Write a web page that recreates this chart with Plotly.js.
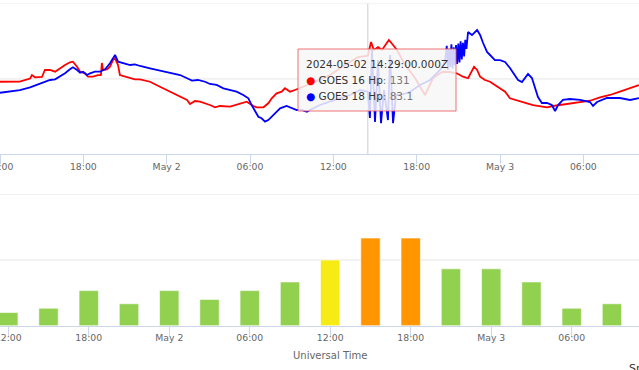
<!DOCTYPE html>
<html>
<head>
<meta charset="utf-8">
<script src="https://cdn.plot.ly/plotly-3.0.1.min.js"></script>
<style>html,body{margin:0;padding:0;background:#fff;overflow:hidden}#chart{width:639px;height:370px}</style>
</head>
<body>
<div id="chart"></div>
<script>
// GOES 16 Hp (nT)
const g16Time = [
 '2024-05-01 12:00','2024-05-01 12:45','2024-05-01 13:25','2024-05-01 14:10','2024-05-01 14:18','2024-05-01 14:31','2024-05-01 15:01','2024-05-01 15:14','2024-05-01 15:36','2024-05-01 15:58',
 '2024-05-01 16:19','2024-05-01 16:41','2024-05-01 17:02','2024-05-01 17:15','2024-05-01 17:33','2024-05-01 17:46','2024-05-01 18:07','2024-05-01 18:20','2024-05-01 18:42','2024-05-01 19:03',
 '2024-05-01 19:16','2024-05-01 19:20','2024-05-01 19:25','2024-05-01 19:42','2024-05-01 19:55','2024-05-01 20:08','2024-05-01 20:17','2024-05-01 20:30','2024-05-01 20:38','2024-05-01 21:00',
 '2024-05-01 21:22','2024-05-01 21:43','2024-05-01 22:05','2024-05-01 22:48','2024-05-01 23:31','2024-05-02 00:14','2024-05-02 00:58','2024-05-02 01:28','2024-05-02 01:41','2024-05-02 02:02',
 '2024-05-02 02:24','2024-05-02 02:46','2024-05-02 03:07','2024-05-02 03:29','2024-05-02 03:50','2024-05-02 04:34','2024-05-02 05:17','2024-05-02 05:46','2024-05-02 06:14','2024-05-02 06:29',
 '2024-05-02 06:58','2024-05-02 07:19','2024-05-02 07:34','2024-05-02 07:55','2024-05-02 08:17','2024-05-02 08:31','2024-05-02 08:53','2024-05-02 09:14','2024-05-02 10:19','2024-05-02 11:46',
 '2024-05-02 12:50','2024-05-02 13:47','2024-05-02 14:29','2024-05-02 14:43','2024-05-02 14:55','2024-05-02 15:13','2024-05-02 15:30','2024-05-02 15:47','2024-05-02 16:00','2024-05-02 16:18',
 '2024-05-02 16:35','2024-05-02 17:10','2024-05-02 17:53','2024-05-02 18:36','2024-05-02 19:11','2024-05-02 19:50','2024-05-02 20:24','2024-05-02 20:53','2024-05-02 21:20','2024-05-02 21:42',
 '2024-05-02 21:59','2024-05-02 22:08','2024-05-02 22:21','2024-05-02 22:34','2024-05-02 22:55','2024-05-02 23:17','2024-05-02 23:38','2024-05-03 00:00','2024-05-03 00:22','2024-05-03 00:43',
 '2024-05-03 01:05','2024-05-03 01:26','2024-05-03 01:57','2024-05-03 02:23','2024-05-03 02:53','2024-05-03 03:23','2024-05-03 03:49','2024-05-03 04:19','2024-05-03 05:02','2024-05-03 05:46',
 '2024-05-03 06:29','2024-05-03 07:12','2024-05-03 07:55','2024-05-03 08:38','2024-05-03 09:22','2024-05-03 10:00'
];
const g16Hp = [
 96.3,96.3,96.5,100.6,105.2,102.2,102.6,111.9,111.9,109.6,
 114.1,118.5,122.1,122.9,116.2,109.6,107.5,103,103,105.2,
 105.2,121.2,111.9,112.8,116.2,125.1,127.4,118.5,105.2,103,
 101.6,99.5,99.5,96.3,89.7,83.1,76.4,72.1,66.7,70.7,
 69.8,67.7,65.4,62.4,64.1,63.2,67.7,69.8,64.1,62.4,
 62.4,67.7,74.3,80.9,83.1,87.6,83.1,85.3,93.3,105.2,
 118.5,129.1,131,149,138.4,142.4,138.4,146.4,151.7,145,
 138.4,118.5,101.2,78.7,101.2,109.2,109.2,107.5,103,100.9,
 111.9,116.2,111.9,103,98.6,96.3,92,87.6,83.1,74.3,
 72.1,69.8,67.7,65.4,64.1,62.4,64.1,65.4,66.7,68.5,
 71.1,75.6,78.7,83.1,87.6,92
];
// GOES 18 Hp (nT)
const g18Time = [
 '2024-05-01 12:00','2024-05-01 12:43','2024-05-01 13:26','2024-05-01 14:10','2024-05-01 14:53','2024-05-01 15:14','2024-05-01 15:36','2024-05-01 15:58','2024-05-01 16:19','2024-05-01 16:41',
 '2024-05-01 17:02','2024-05-01 17:15','2024-05-01 17:33','2024-05-01 17:46','2024-05-01 17:59','2024-05-01 18:16','2024-05-01 18:29','2024-05-01 18:50','2024-05-01 19:12','2024-05-01 19:34',
 '2024-05-01 19:55','2024-05-01 20:17','2024-05-01 20:30','2024-05-01 20:51','2024-05-01 21:22','2024-05-01 21:43','2024-05-01 22:05','2024-05-01 22:48','2024-05-01 23:31','2024-05-02 00:14',
 '2024-05-02 00:58','2024-05-02 01:28','2024-05-02 01:49','2024-05-02 02:15','2024-05-02 02:46','2024-05-02 03:07','2024-05-02 03:36','2024-05-02 04:05','2024-05-02 04:34','2024-05-02 05:02',
 '2024-05-02 05:31','2024-05-02 05:53','2024-05-02 06:07','2024-05-02 06:22','2024-05-02 06:36','2024-05-02 06:50','2024-05-02 07:05','2024-05-02 07:19','2024-05-02 07:34','2024-05-02 07:48',
 '2024-05-02 08:10','2024-05-02 08:38','2024-05-02 09:00','2024-05-02 09:22','2024-05-02 09:43','2024-05-02 10:06','2024-05-02 10:19','2024-05-02 11:02','2024-05-02 12:07','2024-05-02 13:12',
 '2024-05-02 13:55','2024-05-02 14:29','2024-05-02 14:38','2024-05-02 14:47','2024-05-02 15:00','2024-05-02 15:13','2024-05-02 15:26','2024-05-02 15:39','2024-05-02 15:56','2024-05-02 16:05',
 '2024-05-02 16:18','2024-05-02 16:31','2024-05-02 16:48','2024-05-02 17:31','2024-05-02 18:14','2024-05-02 18:58','2024-05-02 19:41','2024-05-02 20:02','2024-05-02 20:10','2024-05-02 20:15',
 '2024-05-02 20:20','2024-05-02 20:25','2024-05-02 20:30','2024-05-02 20:35','2024-05-02 20:40','2024-05-02 20:45','2024-05-02 20:50','2024-05-02 20:55','2024-05-02 21:00','2024-05-02 21:05',
 '2024-05-02 21:10','2024-05-02 21:15','2024-05-02 21:20','2024-05-02 21:25','2024-05-02 21:30','2024-05-02 21:35','2024-05-02 21:42','2024-05-02 21:59','2024-05-02 22:21','2024-05-02 22:34',
 '2024-05-02 22:47','2024-05-02 23:04','2024-05-02 23:17','2024-05-02 23:38','2024-05-03 00:00','2024-05-03 00:22','2024-05-03 00:43','2024-05-03 01:05','2024-05-03 01:18','2024-05-03 01:35',
 '2024-05-03 01:48','2024-05-03 02:01','2024-05-03 02:18','2024-05-03 02:31','2024-05-03 02:44','2024-05-03 03:01','2024-05-03 03:23','2024-05-03 03:44','2024-05-03 03:58','2024-05-03 04:11',
 '2024-05-03 04:32','2024-05-03 05:02','2024-05-03 05:46','2024-05-03 06:29','2024-05-03 06:42','2024-05-03 06:59','2024-05-03 07:42','2024-05-03 08:38','2024-05-03 09:22','2024-05-03 10:00'
];
const g18Hp = [
 81.7,83.1,85.3,88.9,93.3,96.3,98.6,99.5,103,107.5,
 112.8,115.4,111.9,108.3,109.6,105.2,107.5,109.6,109.6,112.8,
 120.8,131.8,122.9,120.8,118.5,119.4,117.2,114.1,110.9,108.3,
 105.2,100.9,97.7,98.6,96.3,93.3,92,87.6,85.3,83.1,
 78.7,74.3,65.4,56.5,49.9,47.8,43.3,45.5,49.9,54.4,
 61,64.1,61,58.8,58.8,56.5,58.8,65.4,72.1,78.7,
 85.3,83.1,48.2,138.4,42.9,125.1,41.4,85.3,45.5,131.8,
 41.4,78.7,78.7,82.7,92,98.6,111.9,122.5,144,112,
 140,116,146,114,142,118,145,120,147,122,
 150,126,148,130,152,140,162.3,158.3,164.9,158.3,
 147.7,135.8,131.8,125.1,125.1,122.5,114.5,105.2,98.6,95.9,
 101.2,106.6,101.2,89.3,76,68.1,68.1,65.4,57.5,65.4,
 72.1,73.4,72.1,69.4,64.1,69.4,74.7,74.7,72.1,74.7
];
// Estimated planetary Kp (3-hour)
const kpTime = [
 '2024-05-01 12:00','2024-05-01 15:00','2024-05-01 18:00','2024-05-01 21:00',
 '2024-05-02 00:00','2024-05-02 03:00','2024-05-02 06:00','2024-05-02 09:00',
 '2024-05-02 12:00','2024-05-02 15:00','2024-05-02 18:00','2024-05-02 21:00',
 '2024-05-03 00:00','2024-05-03 03:00','2024-05-03 06:00','2024-05-03 09:00'
];
const kpValue = [1.0,1.33,2.67,1.67,2.67,2.0,2.67,3.33,5.0,6.67,6.67,4.33,4.33,3.33,1.33,1.67];
// Axis tick labels
const tickTimes = ['2024-05-01 12:00','2024-05-01 18:00','2024-05-02 00:00','2024-05-02 06:00','2024-05-02 12:00','2024-05-02 18:00','2024-05-03 00:00','2024-05-03 06:00'];
const tickLabels = ['12:00','18:00','May 2','06:00','12:00','18:00','May 3','06:00'];
// Grid values
const hpGrid = [100, 200];
const kpGrid = [5, 10];
// Tooltip content
const tipTime = '2024-05-02 14:29';
const tipHeader = '2024-05-02 14:29:00.000Z';
const tipG16 = '131';
const tipG18 = '83.1';

function kpColor(v){
  if (v >= 6.5) return 'rgb(255,150,0)';
  if (v >= 5.5) return 'rgb(255,200,0)';
  if (v >= 4.5) return 'rgb(246,235,20)';
  return 'rgb(146,208,80)';
}

const W = 639, H = 370;
const px = x => x / W;
const py = y => 1 - y / H;

const tickFont = {family: 'DejaVu Sans', size: 9.3, color: '#666666'};

const traces = [
  {x: g16Time, y: g16Hp, type: 'scatter', mode: 'lines', name: 'GOES 16 Hp',
   line: {color: '#ff0000', width: 1.8}, xaxis: 'x', yaxis: 'y'},
  {x: g18Time, y: g18Hp, type: 'scatter', mode: 'lines', name: 'GOES 18 Hp',
   line: {color: '#0000ff', width: 1.8}, xaxis: 'x', yaxis: 'y'},
  {x: kpTime, y: kpValue, type: 'bar', name: 'Kp', width: 5.2e6,
   marker: {color: kpValue.map(kpColor), line: {color: 'rgba(255,255,255,0.6)', width: 1}},
   xaxis: 'x2', yaxis: 'y2'}
];

const xCommon = {
  type: 'date', showgrid: false, showline: true, linecolor: '#ccd6eb', linewidth: 1,
  ticks: 'outside', ticklen: 9, tickcolor: '#ccd6eb', tickwidth: 1,
  tickvals: tickTimes, ticktext: tickLabels, tickfont: tickFont, zeroline: false, fixedrange: true,
  ticklabeloverflow: 'allow'
};

const gridShapes = [];
hpGrid.forEach(v => gridShapes.push({type: 'line', xref: 'paper', yref: 'y', x0: 0, x1: 1, y0: v, y1: v,
  line: {color: '#e6e6e6', width: 1}, layer: 'below'}));
kpGrid.forEach(v => gridShapes.push({type: 'line', xref: 'paper', yref: 'y2', x0: 0, x1: 1, y0: v, y1: v,
  line: {color: '#e6e6e6', width: 1}, layer: 'below'}));

const layout = {
  width: W, height: H,
  margin: {l: 0, r: 0, t: 0, b: 0},
  paper_bgcolor: '#ffffff', plot_bgcolor: '#ffffff',
  showlegend: false,
  bargap: 0,
  xaxis: Object.assign({}, xCommon, {domain: [0, 1], anchor: 'y', ticklabelstandoff: -5,
    range: ['2024-05-01 12:00', '2024-05-03 10:00:30']}),
  yaxis: {domain: [py(154.3), py(3.6)], range: [0, 200], showticklabels: false,
    showgrid: false, zeroline: false, showline: false, ticks: '', anchor: 'x'},
  xaxis2: Object.assign({}, xCommon, {domain: [0, 1], anchor: 'y2', ticklabelstandoff: -6,
    range: ['2024-05-01 11:23', '2024-05-03 11:01']}),
  yaxis2: {domain: [py(325.7), py(194.3)], range: [0, 10], showticklabels: false,
    showgrid: false, zeroline: false, showline: false, ticks: '', anchor: 'x2'},
  shapes: gridShapes.concat([
    {type: 'line', xref: 'x', yref: 'paper', x0: tipTime, x1: tipTime, y0: py(154.3), y1: py(3.6),
     line: {color: '#cccccc', width: 1}, layer: 'below'},
    {type: 'rect', xref: 'paper', yref: 'paper', x0: px(298), x1: px(456), y0: py(111), y1: py(49),
     fillcolor: 'rgba(247,247,247,0.85)', line: {color: 'rgba(235,90,90,0.85)', width: 1}, layer: 'above'}
  ]),
  annotations: [
    {xref: 'paper', yref: 'paper', x: px(304), y: py(63.5), xanchor: 'left', yanchor: 'middle', showarrow: false,
     text: tipHeader, font: {family: 'DejaVu Sans', size: 10.5, color: '#333333'}},
    {xref: 'paper', yref: 'paper', x: px(304), y: py(80), xanchor: 'left', yanchor: 'middle', showarrow: false,
     text: '<span style="color:#ff0000">●</span> GOES 16 Hp<span style="color:#777777">: ' + tipG16 + '</span>',
     font: {family: 'DejaVu Sans', size: 10.5, color: '#333333'}},
    {xref: 'paper', yref: 'paper', x: px(304), y: py(96), xanchor: 'left', yanchor: 'middle', showarrow: false,
     text: '<span style="color:#0000ff">●</span> GOES 18 Hp<span style="color:#777777">: ' + tipG18 + '</span>',
     font: {family: 'DejaVu Sans', size: 10.5, color: '#333333'}},
    {xref: 'paper', yref: 'paper', x: px(330), y: py(355), xanchor: 'center', yanchor: 'middle', showarrow: false,
     text: 'Universal Time', font: {family: 'DejaVu Sans', size: 10, color: '#666666'}},
    {xref: 'paper', yref: 'paper', x: px(627), y: py(360), xanchor: 'left', yanchor: 'top', showarrow: false,
     text: 'Space Weather Prediction Center', font: {family: 'DejaVu Sans', size: 11, color: '#333333'}}
  ]
};

Plotly.newPlot('chart', traces, layout, {displayModeBar: false, staticPlot: true});
</script>
</body>
</html>
